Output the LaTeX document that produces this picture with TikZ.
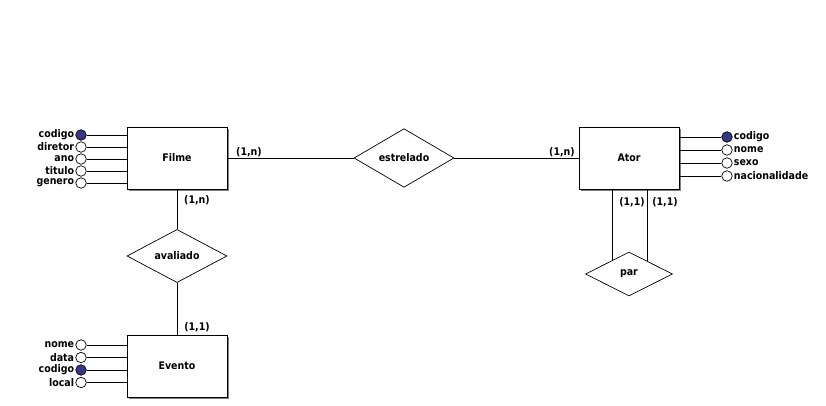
\documentclass[tikz,border=0pt]{standalone}
\usepackage{fontspec}
\setmainfont{DejaVu Sans Condensed}
\usetikzlibrary{shapes.geometric,shadows,calc}
\definecolor{chave}{RGB}{55,55,135}

\begin{document}
\begin{tikzpicture}[x=1pt, y=-1pt, line width=0.7pt,
    every node/.style={font=\bfseries\fontsize{10.5}{11}\selectfont},
    entidade/.style={draw, fill=white, minimum width=100pt, minimum height=62pt,
        drop shadow={shadow xshift=2pt, shadow yshift=-2pt, fill=black!50, opacity=1}},
    relac/.style={draw, diamond, fill=white, inner sep=0pt, minimum width=100pt, minimum height=52pt},
    atrib/.style={draw, circle, fill=white, inner sep=0pt, minimum size=10.5pt},
    chavep/.style={atrib, fill=chave},
    card/.style={inner sep=1pt}]
    \useasboundingbox (0,0) rectangle (826,406);

    % Entidades
    \node[entidade] (filme) at (177,158) {Filme};
    \node[entidade] (ator) at (629,158) {Ator};
    \node[entidade] (evento) at (177,366) {Evento};

    % Relacionamentos
    \node[relac] (estrelado) at (404,158) {estrelado};
    \node[relac] (avaliado) at (177,256) {avaliado};
    \node[relac, minimum width=87pt, minimum height=44pt] (par) at (629,274) {par};

    % Atributos de Filme
    \node[chavep, label={[inner sep=1pt]left:codigo}] (fcodigo) at (81,135) {};
    \node[atrib, label={[inner sep=1pt]left:diretor}] (fdiretor) at (81,147) {};
    \node[atrib, label={[inner sep=1pt]left:ano}] (fano) at (81,159) {};
    \node[atrib, label={[inner sep=1pt]left:titulo}] (ftitulo) at (81,171) {};
    \node[atrib, label={[inner sep=1pt]left:genero}] (fgenero) at (81,183) {};
    \draw (fcodigo) -- (fcodigo -| filme.west);
    \draw (fdiretor) -- (fdiretor -| filme.west);
    \draw (fano) -- (fano -| filme.west);
    \draw (ftitulo) -- (ftitulo -| filme.west);
    \draw (fgenero) -- (fgenero -| filme.west);

    % Atributos de Ator
    \node[chavep, label={[inner sep=1pt]right:codigo}] (acodigo) at (727,137) {};
    \node[atrib, label={[inner sep=1pt]right:nome}] (anome) at (727,150) {};
    \node[atrib, label={[inner sep=1pt]right:sexo}] (asexo) at (727,163) {};
    \node[atrib, label={[inner sep=1pt]right:nacionalidade}] (anacional) at (727,176) {};
    \draw (acodigo) -- (acodigo -| ator.east);
    \draw (anome) -- (anome -| ator.east);
    \draw (asexo) -- (asexo -| ator.east);
    \draw (anacional) -- (anacional -| ator.east);

    % Atributos de Evento
    \node[atrib, label={[inner sep=1pt]left:nome}] (enome) at (81,345) {};
    \node[atrib, label={[inner sep=1pt]left:data}] (edata) at (81,357.5) {};
    \node[chavep, label={[inner sep=1pt]left:codigo}] (ecodigo) at (81,370) {};
    \node[atrib, label={[inner sep=1pt]left:local}] (elocal) at (81,382.5) {};
    \draw (enome) -- (enome -| evento.west);
    \draw (edata) -- (edata -| evento.west);
    \draw (ecodigo) -- (ecodigo -| evento.west);
    \draw (elocal) -- (elocal -| evento.west);

    % Ligacoes
    \draw (filme) -- (estrelado) -- (ator);
    \draw (filme) -- (avaliado) -- (evento);
    \coordinate (pe) at ($(par.north)!0.38!(par.west)$);
    \coordinate (pd) at ($(par.north)!0.42!(par.east)$);
    \draw (pe |- ator.south) -- (pe);
    \draw (pd |- ator.south) -- (pd);

    % Cardinalidades
    \node[card] (c1) at (249,152) {(1,n)};
    \node[card] (c2) at (562,152) {(1,n)};
    \node[card] (c3) at (197,200) {(1,n)};
    \node[card] (c4) at (197,327) {(1,1)};
    \node[card] (c5) at (632,202) {(1,1)};
    \node[card] (c6) at (665,202) {(1,1)};
\end{tikzpicture}
\end{document}
